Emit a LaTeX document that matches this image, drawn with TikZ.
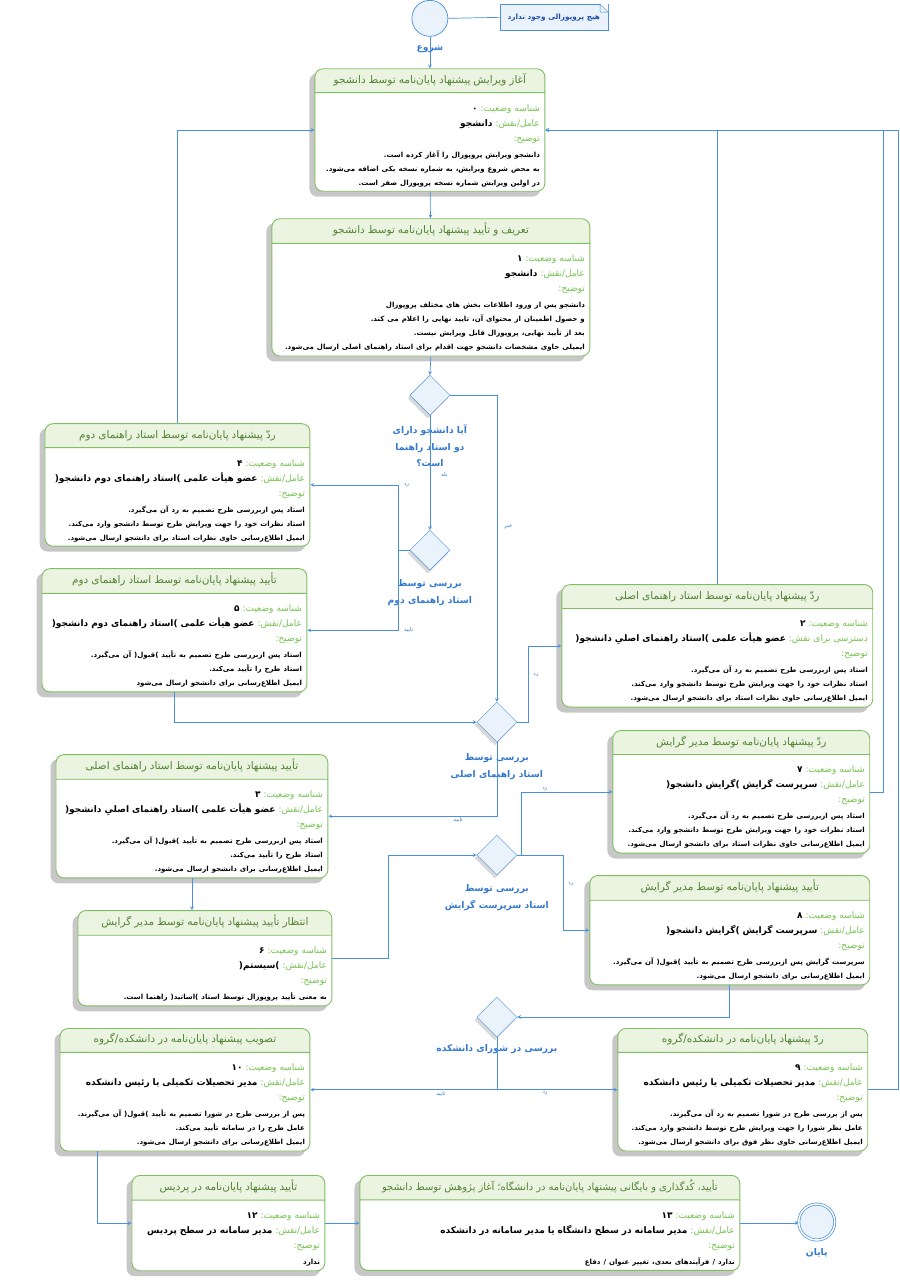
\documentclass[tikz,border=0pt]{standalone}
\usepackage{fontspec}
\setmainfont[Script=Arabic]{DejaVu Sans}
\usetikzlibrary{shapes.geometric,shapes.multipart,positioning}
\TeXXeTstate=1
\definecolor{bordvert}{RGB}{128,190,98}
\definecolor{fondvert}{RGB}{234,244,225}
\definecolor{titrevert}{RGB}{84,130,52}
\definecolor{clevert}{RGB}{118,194,80}
\definecolor{bleulien}{RGB}{74,144,226}
\definecolor{bleutexte}{RGB}{52,120,205}
\definecolor{fondbleu}{RGB}{234,242,252}
\definecolor{bleunote}{RGB}{30,80,170}
\pgfdeclarelayer{fond}
\pgfsetlayers{fond,main}

\begin{document}
\begin{tikzpicture}[x=1pt,y=-1pt]
\tikzstyle{fleche}=[->,>=stealth,draw=bleulien,line width=0.7pt]
\tikzset{etat/.style={rectangle split,rectangle split parts=2,draw=bordvert,line width=0.9pt,
  rounded corners=8pt,rectangle split part fill={fondvert,white},text width=#1,align=right,
  inner xsep=5pt,inner ysep=4pt,anchor=north,font=\fontsize{9}{15}\selectfont},
decision/.style={diamond,draw=bleulien,fill=fondbleu,minimum width=40pt,minimum height=40pt,inner sep=0pt},
libelle/.style={text=bleutexte,font=\bfseries\fontsize{9.2}{16.5}\selectfont,align=center},
etiq/.style={text=bleutexte,font=\fontsize{5.5}{7}\selectfont,inner sep=1pt},
memo/.style={draw=bleulien,fill=fondbleu,minimum width=108pt,minimum height=26pt,
  text=bleunote,font=\bfseries\fontsize{7.3}{9}\selectfont}}

\node[circle,draw=bleulien,fill=fondbleu,minimum size=36pt,line width=0.7pt,
  label={[libelle,label distance=5pt]below:\beginR شروع\endR}] (debut) at (430,18) {};
\node[memo] (note) at (554,17) {\beginR هیچ پروپوزالی وجود ندارد\endR};
\fill[white] ([xshift=-8pt]note.north east) -- (note.north east) -- ([yshift=-8pt]note.north east) -- cycle;
\draw[bleulien,line width=0.5pt] ([xshift=-8pt]note.north east) -- ([xshift=-8pt,yshift=-8pt]note.north east)
  -- ([yshift=-8pt]note.north east) -- cycle;

\node[etat=220pt] (E0) at (430,68) {\noindent\hbox to\hsize{\hss\fontsize{10.5}{13}\selectfont\textcolor{titrevert}{\beginR آغاز ویرایش پیشنهاد پایان‌نامه توسط دانشجو\endR}\rule[-5pt]{0pt}{15pt}\hss}
\nodepart{two}
\rule{0pt}{14pt}\textbf{\beginR ۰\endR} \textcolor{clevert}{\beginR شناسه وضعیت:\endR}\\
\textbf{\beginR دانشجو\endR} \textcolor{clevert}{\beginR عامل/نقش:\endR}\\
\textcolor{clevert}{\beginR توضیح:\endR}\par\vspace{2pt}
{\fontsize{7}{14}\selectfont\bfseries
\beginR دانشجو ویرایش پروپوزال را آغاز کرده است.\endR\\
\beginR به محض شروع ویرایش، به شماره نسخه یکی اضافه می‌شود.\endR\\
\beginR در اولین ویرایش شماره نسخه پروپوزال صفر است.\endR\par}};

\node[etat=308pt] (E1) at (431,218) {\noindent\hbox to\hsize{\hss\fontsize{10.5}{13}\selectfont\textcolor{titrevert}{\beginR تعریف و تأیید پیشنهاد پایان‌نامه توسط دانشجو\endR}\rule[-5pt]{0pt}{15pt}\hss}
\nodepart{two}
\rule{0pt}{14pt}\textbf{\beginR ۱\endR} \textcolor{clevert}{\beginR شناسه وضعیت:\endR}\\
\textbf{\beginR دانشجو\endR} \textcolor{clevert}{\beginR عامل/نقش:\endR}\\
\textcolor{clevert}{\beginR توضیح:\endR}\par\vspace{2pt}
{\fontsize{7}{14}\selectfont\bfseries
\beginR دانشجو پس از ورود اطلاعات بخش های مختلف پروپوزال\endR\\
\beginR و حصول اطمینان از محتوای آن، تایید نهایی را اعلام می کند.\endR\\
\beginR بعد از تأیید نهایی، پروپوزال قابل ویرایش نیست.\endR\\
\beginR ایمیلی حاوی مشخصات دانشجو جهت اقدام برای استاد راهنمای اصلی ارسال می‌شود.\endR\par}};

\node[decision,label={[libelle,label distance=6pt]below:\beginR آیا دانشجو دارای\endR\\\beginR دو استاد راهنما\endR\\\beginR است؟\endR}] (D1) at (430,395) {};
\node[decision,label={[libelle,label distance=6pt]below:\beginR بررسی توسط\endR\\\beginR استاد راهنمای دوم\endR}] (D2) at (430,550) {};

\node[etat=255pt] (E4) at (177.5,423) {\noindent\hbox to\hsize{\hss\fontsize{10.5}{13}\selectfont\textcolor{titrevert}{\beginR ردّ پیشنهاد پایان‌نامه توسط استاد راهنمای دوم\endR}\rule[-5pt]{0pt}{15pt}\hss}
\nodepart{two}
\rule{0pt}{14pt}\textbf{\beginR ۴\endR} \textcolor{clevert}{\beginR شناسه وضعیت:\endR}\\
\textbf{\beginR عضو هیأت علمی )استاد راهنمای دوم دانشجو(\endR} \textcolor{clevert}{\beginR عامل/نقش:\endR}\\
\textcolor{clevert}{\beginR توضیح:\endR}\par\vspace{2pt}
{\fontsize{7}{14}\selectfont\bfseries
\beginR استاد پس ازبررسی طرح تصمیم به رد آن می‌گیرد.\endR\\
\beginR استاد نظرات خود را جهت ویرایش طرح توسط دانشجو وارد می‌کند.\endR\\
\beginR ایمیل اطلاع‌رسانی حاوی نظرات استاد برای دانشجو ارسال می‌شود.\endR\par}};

\node[etat=255pt] (E5) at (174.5,568) {\noindent\hbox to\hsize{\hss\fontsize{10.5}{13}\selectfont\textcolor{titrevert}{\beginR تأیید پیشنهاد پایان‌نامه توسط استاد راهنمای دوم\endR}\rule[-5pt]{0pt}{15pt}\hss}
\nodepart{two}
\rule{0pt}{14pt}\textbf{\beginR ۵\endR} \textcolor{clevert}{\beginR شناسه وضعیت:\endR}\\
\textbf{\beginR عضو هیأت علمی )استاد راهنمای دوم دانشجو(\endR} \textcolor{clevert}{\beginR عامل/نقش:\endR}\\
\textcolor{clevert}{\beginR توضیح:\endR}\par\vspace{2pt}
{\fontsize{7}{14}\selectfont\bfseries
\beginR استاد پس ازبررسی طرح تصمیم به تأیید )قبول( آن می‌گیرد.\endR\\
\beginR استاد طرح را تأیید می‌کند.\endR\\
\beginR ایمیل اطلاع‌رسانی برای دانشجو ارسال می‌شود\endR\par}};

\node[etat=301pt] (E2) at (717.5,584) {\noindent\hbox to\hsize{\hss\fontsize{10.5}{13}\selectfont\textcolor{titrevert}{\beginR ردّ پیشنهاد پایان‌نامه توسط استاد راهنمای اصلی\endR}\rule[-5pt]{0pt}{15pt}\hss}
\nodepart{two}
\rule{0pt}{14pt}\textbf{\beginR ۲\endR} \textcolor{clevert}{\beginR شناسه وضعیت:\endR}\\
\textbf{\beginR عضو هیأت علمی )استاد راهنمای اصلیِ دانشجو(\endR} \textcolor{clevert}{\beginR دسترسی برای نقش:\endR}\\
\textcolor{clevert}{\beginR توضیح:\endR}\par\vspace{2pt}
{\fontsize{7}{14}\selectfont\bfseries
\beginR استاد پس ازبررسی طرح تصمیم به رد آن می‌گیرد.\endR\\
\beginR استاد نظرات خود را جهت ویرایش طرح توسط دانشجو وارد می‌کند.\endR\\
\beginR ایمیل اطلاع‌رسانی حاوی نظرات استاد برای دانشجو ارسال می‌شود.\endR\par}};

\node[decision,label={[libelle,label distance=8pt]below:\beginR بررسی توسط\endR\\\beginR استاد راهنمای اصلی\endR}] (D3) at (497,722) {};

\node[etat=262pt] (E3) at (192,754) {\noindent\hbox to\hsize{\hss\fontsize{10.5}{13}\selectfont\textcolor{titrevert}{\beginR تأیید پیشنهاد پایان‌نامه توسط استاد راهنمای اصلی\endR}\rule[-5pt]{0pt}{15pt}\hss}
\nodepart{two}
\rule{0pt}{14pt}\textbf{\beginR ۳\endR} \textcolor{clevert}{\beginR شناسه وضعیت:\endR}\\
\textbf{\beginR عضو هیأت علمی )استاد راهنمای اصلیِ دانشجو(\endR} \textcolor{clevert}{\beginR عامل/نقش:\endR}\\
\textcolor{clevert}{\beginR توضیح:\endR}\par\vspace{2pt}
{\fontsize{7}{14}\selectfont\bfseries
\beginR استاد پس ازبررسی طرح تصمیم به تأیید )قبول( آن می‌گیرد.\endR\\
\beginR استاد طرح را تأیید می‌کند.\endR\\
\beginR ایمیل اطلاع‌رسانی برای دانشجو ارسال می‌شود.\endR\par}};

\node[etat=247pt] (E7) at (741.5,730) {\noindent\hbox to\hsize{\hss\fontsize{10.5}{13}\selectfont\textcolor{titrevert}{\beginR ردّ پیشنهاد پایان‌نامه توسط مدیر گرایش\endR}\rule[-5pt]{0pt}{15pt}\hss}
\nodepart{two}
\rule{0pt}{14pt}\textbf{\beginR ۷\endR} \textcolor{clevert}{\beginR شناسه وضعیت:\endR}\\
\textbf{\beginR سرپرست گرایش )گرایش دانشجو(\endR} \textcolor{clevert}{\beginR عامل/نقش:\endR}\\
\textcolor{clevert}{\beginR توضیح:\endR}\par\vspace{2pt}
{\fontsize{7}{14}\selectfont\bfseries
\beginR استاد پس ازبررسی طرح تصمیم به رد آن می‌گیرد.\endR\\
\beginR استاد نظرات خود را جهت ویرایش طرح توسط دانشجو وارد می‌کند.\endR\\
\beginR ایمیل اطلاع‌رسانی حاوی نظرات استاد برای دانشجو ارسال می‌شود.\endR\par}};

\node[decision,label={[libelle,label distance=6pt]below:\beginR بررسی توسط\endR\\\beginR استاد سرپرست گرایش\endR}] (D4) at (497,855) {};

\node[etat=270pt] (E8) at (730,875) {\noindent\hbox to\hsize{\hss\fontsize{10.5}{13}\selectfont\textcolor{titrevert}{\beginR تأیید پیشنهاد پایان‌نامه توسط مدیر گرایش\endR}\rule[-5pt]{0pt}{15pt}\hss}
\nodepart{two}
\rule{0pt}{14pt}\textbf{\beginR ۸\endR} \textcolor{clevert}{\beginR شناسه وضعیت:\endR}\\
\textbf{\beginR سرپرست گرایش )گرایش دانشجو(\endR} \textcolor{clevert}{\beginR عامل/نقش:\endR}\\
\textcolor{clevert}{\beginR توضیح:\endR}\par\vspace{2pt}
{\fontsize{7}{14}\selectfont\bfseries
\beginR سرپرست گرایش پس ازبررسی طرح تصمیم به تأیید )قبول( آن می‌گیرد.\endR\\
\beginR ایمیل اطلاع‌رسانی برای دانشجو ارسال می‌شود.\endR\par}};

\node[etat=244pt] (E6) at (205,910) {\noindent\hbox to\hsize{\hss\fontsize{10.5}{13}\selectfont\textcolor{titrevert}{\beginR انتظار تأیید پیشنهاد پایان‌نامه توسط مدیر گرایش\endR}\rule[-5pt]{0pt}{15pt}\hss}
\nodepart{two}
\rule{0pt}{14pt}\textbf{\beginR ۶\endR} \textcolor{clevert}{\beginR شناسه وضعیت:\endR}\\
\textbf{\beginR )سیستم(\endR} \textcolor{clevert}{\beginR عامل/نقش:\endR}\\
\textcolor{clevert}{\beginR توضیح:\endR}\par\vspace{2pt}
{\fontsize{7}{14}\selectfont\bfseries
\beginR به معنی تأیید پروپوزال توسط استاد )اساتید( راهنما است.\endR\par}};

\node[decision,label={[libelle,label distance=4pt]below:\beginR بررسی در شورای دانشکده\endR}] (D5) at (497,1017) {};

\node[etat=240pt] (E10) at (185,1028) {\noindent\hbox to\hsize{\hss\fontsize{10.5}{13}\selectfont\textcolor{titrevert}{\beginR تصویب پیشنهاد پایان‌نامه در دانشکده/گروه\endR}\rule[-5pt]{0pt}{15pt}\hss}
\nodepart{two}
\rule{0pt}{14pt}\textbf{\beginR ۱۰\endR} \textcolor{clevert}{\beginR شناسه وضعیت:\endR}\\
\textbf{\beginR مدیر تحصیلات تکمیلی یا رئیس دانشکده\endR} \textcolor{clevert}{\beginR عامل/نقش:\endR}\\
\textcolor{clevert}{\beginR توضیح:\endR}\par\vspace{2pt}
{\fontsize{7}{14}\selectfont\bfseries
\beginR پس از بررسی طرح در شورا تصمیم به تأیید )قبول( آن می‌گیرند.\endR\\
\beginR عامل طرح را در سامانه تأیید می‌کند.\endR\\
\beginR ایمیل اطلاع‌رسانی برای دانشجو ارسال می‌شود.\endR\par}};

\node[etat=240pt] (E9) at (743,1028) {\noindent\hbox to\hsize{\hss\fontsize{10.5}{13}\selectfont\textcolor{titrevert}{\beginR ردّ پیشنهاد پایان‌نامه در دانشکده/گروه\endR}\rule[-5pt]{0pt}{15pt}\hss}
\nodepart{two}
\rule{0pt}{14pt}\textbf{\beginR ۹\endR} \textcolor{clevert}{\beginR شناسه وضعیت:\endR}\\
\textbf{\beginR مدیر تحصیلات تکمیلی یا رئیس دانشکده\endR} \textcolor{clevert}{\beginR عامل/نقش:\endR}\\
\textcolor{clevert}{\beginR توضیح:\endR}\par\vspace{2pt}
{\fontsize{7}{14}\selectfont\bfseries
\beginR پس از بررسی طرح در شورا تصمیم به رد آن می‌گیرند.\endR\\
\beginR عامل نظر شورا را جهت ویرایش طرح توسط دانشجو وارد می‌کند.\endR\\
\beginR ایمیل اطلاع‌رسانی حاوی نظر فوق برای دانشجو ارسال می‌شود.\endR\par}};

\node[etat=183pt] (E12) at (228.5,1175) {\noindent\hbox to\hsize{\hss\fontsize{10.5}{13}\selectfont\textcolor{titrevert}{\beginR تأیید پیشنهاد پایان‌نامه در پردیس\endR}\rule[-5pt]{0pt}{15pt}\hss}
\nodepart{two}
\rule{0pt}{14pt}\textbf{\beginR ۱۲\endR} \textcolor{clevert}{\beginR شناسه وضعیت:\endR}\\
\textbf{\beginR مدیر سامانه در سطح پردیس\endR} \textcolor{clevert}{\beginR عامل/نقش:\endR}\\
\textcolor{clevert}{\beginR توضیح:\endR}\par\vspace{2pt}
{\fontsize{7}{14}\selectfont\bfseries\beginR ندارد\endR\par}};

\node[etat=370pt] (E13) at (550,1175) {\noindent\hbox to\hsize{\hss\fontsize{10}{13}\selectfont\textcolor{titrevert}{\beginR تأیید، کُدگذاری و بایگانی پیشنهاد پایان‌نامه در دانشگاه؛ آغاز پژوهش توسط دانشجو\endR}\rule[-5pt]{0pt}{15pt}\hss}
\nodepart{two}
\rule{0pt}{14pt}\textbf{\beginR ۱۳\endR} \textcolor{clevert}{\beginR شناسه وضعیت:\endR}\\
\textbf{\beginR مدیر سامانه در سطح دانشگاه یا مدیر سامانه در دانشکده\endR} \textcolor{clevert}{\beginR عامل/نقش:\endR}\\
\textcolor{clevert}{\beginR توضیح:\endR}\par\vspace{2pt}
{\fontsize{7}{14}\selectfont\bfseries\beginR ندارد / فرآیندهای بعدی، تغییر عنوان / دفاع\endR\par}};

\node[circle,draw=bleulien,fill=fondbleu,minimum size=36pt,line width=0.7pt,double,double distance=1.5pt,
  label={[libelle,label distance=5pt]below:\beginR پایان\endR}] (fin) at (817,1222) {};

\begin{pgfonlayer}{fond}
\foreach \e in {E0,E1,E2,E3,E4,E5,E6,E7,E8,E9,E10,E12,E13}
  \fill[black!22,rounded corners=8pt] ([shift={(-5pt,-5pt)}]\e.north west) rectangle ([shift={(-5pt,-5pt)}]\e.south east);
\foreach \d in {D1,D2,D3,D4,D5}
  \fill[black!15] ([shift={(-2pt,-3pt)}]\d.north) -- ([shift={(-2pt,-3pt)}]\d.east) -- ([shift={(-2pt,-3pt)}]\d.south) -- ([shift={(-2pt,-3pt)}]\d.west) -- cycle;
\end{pgfonlayer}

\draw[bleulien,line width=0.7pt] (debut.east) -- (note.west);
\draw[fleche] (debut) -- (E0);
\draw[fleche] (E0) -- (E1);
\draw[fleche] (E1.south) -- (D1.north);
\draw[fleche] (D1.south) -- node[etiq,pos=.52,anchor=west,xshift=10pt]{\beginR بله\endR} (D2.north);
\draw[fleche] (D1.east) -| node[etiq,pos=.715,anchor=west,xshift=6pt]{\beginR خیر\endR} (D3.north);
\draw[fleche] (D2.west) -- ++(-11,0) |- node[etiq,pos=.5,anchor=west,xshift=4pt]{\beginR رد\endR} (E4.east);
\draw[fleche] (D2.west) -- ++(-11,0) |- node[etiq,pos=.5,anchor=west,xshift=4pt]{\beginR تایید\endR} (E5.east);
\draw[fleche] (E4.north) |- (E0.west);
\draw[fleche] (E5.south) |- (D3.west);
\draw[fleche] (D3.east) -- ++(11,0) |- node[etiq,pos=.31,anchor=west,xshift=4pt]{\beginR رد\endR} (E2.west);
\draw[fleche] (D3.south) |- node[etiq,pos=.615,anchor=north]{\beginR تایید\endR} (E3.east);
\draw[fleche] (E2.north) |- (E0.east);
\draw[fleche] (E7.east) -- ++(13,0) |- (E0.east);
\draw[fleche] (E9.east) -- ++(30,0) |- (E0.east);
\draw[fleche] (E3.south) -- (E3.south |- E6.north);
\draw[fleche] (E6.east) -- ++(56,0) |- (D4.west);
\draw[fleche] (D4.east) -- ++(4,0) |- node[etiq,pos=.63,anchor=south]{\beginR رد\endR} (E7.west);
\draw[fleche] (D4.east) -- ++(46,0) |- node[etiq,pos=.19,anchor=west,xshift=4pt]{\beginR رد\endR} (E8.west);
\draw[fleche] (E8.south) |- (D5.east);
\draw[fleche] (D5.south) |- node[etiq,pos=.65,anchor=north]{\beginR تایید\endR} (E10.east);
\draw[fleche] (D5.south) |- node[etiq,pos=.7,anchor=north]{\beginR رد\endR} (E9.west);
\draw[fleche] ([xshift=-88pt]E10.south) |- (E12.west);
\draw[fleche] (E12.east) -- (E12.east -| E13.west);
\draw[fleche] (E13.east) -- (E13.east -| fin.west);

\useasboundingbox (0,0) rectangle (900,1283);
\end{tikzpicture}
\end{document}
